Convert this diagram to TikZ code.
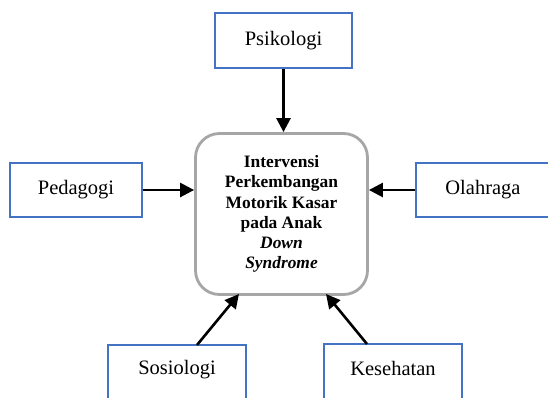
\documentclass[tikz,border=0pt]{standalone}
\usepackage{fontspec}
\setmainfont{Liberation Serif}
\usetikzlibrary{arrows.meta}
\definecolor{boxblue}{RGB}{68,114,196}
\definecolor{centgray}{RGB}{166,166,166}
\tikzset{
  sidebox/.style={draw=boxblue, line width=2.6pt, fill=white, rectangle, inner sep=0pt,
    font=\fontsize{20.5}{24}\selectfont},
  labeltext/.style={font=\fontsize{20.5}{24}\selectfont, inner sep=0pt},
  centerbox/.style={draw=centgray, line width=2.8pt, fill=white, rectangle, rounded corners=24pt,
    inner sep=0pt, minimum width=172pt, minimum height=161pt, align=center,
    font=\bfseries\fontsize{17.4}{20.2}\selectfont},
  conn/.style={line width=2.6pt, -{Triangle[length=14pt,width=14pt]}}
}
\begin{document}
\begin{tikzpicture}[x=1pt,y=-1pt]
\useasboundingbox (0,0) rectangle (548,397);
\clip (0,0) rectangle (548,397);
\node[centerbox] (c) at (281.5,214) {Intervensi\\Perkembangan\\Motorik Kasar\\pada Anak\\\textit{Down}\\\textit{Syndrome}};
\node[sidebox, minimum width=137pt, minimum height=55pt] (psi) at (283.5,40.5) {Psikologi};
\node[sidebox, minimum width=132pt, minimum height=54pt] (ped) at (76,190) {Pedagogi};
\node[sidebox, minimum width=134pt, minimum height=54pt] (ola) at (483,190) {Olahraga};
\node[sidebox, minimum width=138pt, minimum height=56pt] (sos) at (177,373) {};
\node[labeltext] (sosl) at (177,370) {Sosiologi};
\node[sidebox, minimum width=138pt, minimum height=56pt] (kes) at (393,372) {};
\node[labeltext] (kesl) at (393,368) {Kesehatan};
\coordinate (sosTop) at (197,345);
\coordinate (kesTop) at (367,344);
\coordinate (sosEnd) at (239,294);
\coordinate (kesEnd) at (326,294);
\draw[conn] (psi.south) -- (c.north -| psi.south);
\draw[conn] (ped.east) -- (c.west |- ped.east);
\draw[conn] (ola.west) -- (c.east |- ola.west);
\draw[conn] (sosTop) -- (sosEnd);
\draw[conn] (kesTop) -- (kesEnd);
\end{tikzpicture}
\end{document}
